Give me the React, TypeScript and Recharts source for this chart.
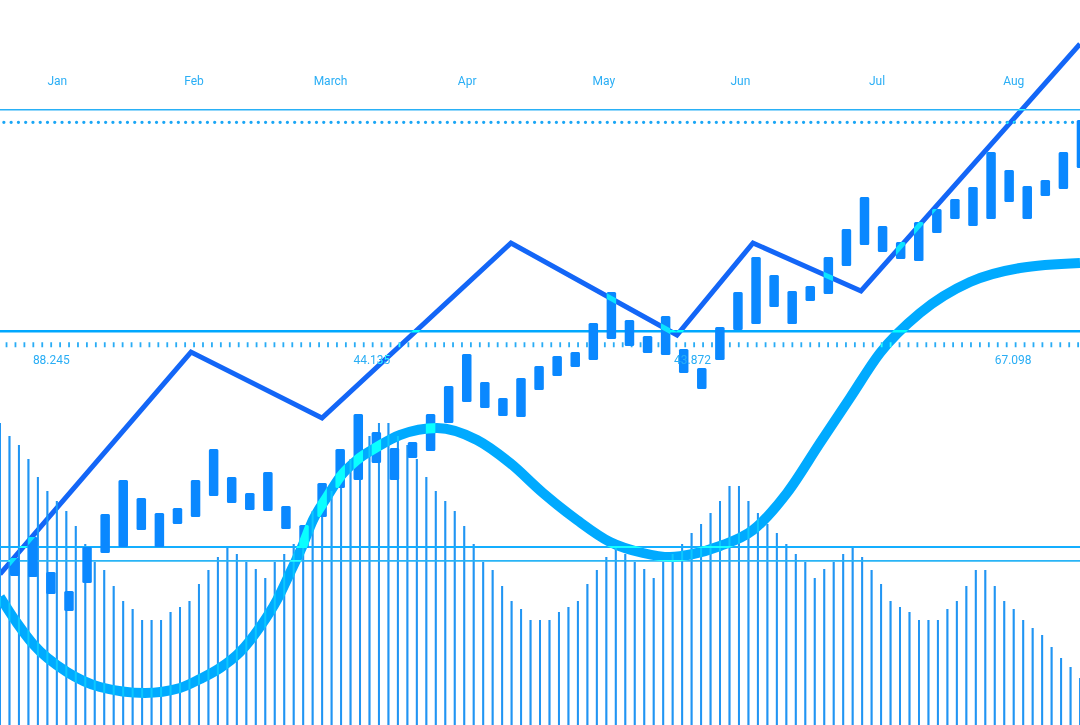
import React from 'react';
import { BarChart, Bar, LineChart, Line, XAxis, YAxis, ReferenceLine } from 'recharts';

// thin volume bars, left to right (value scale 0-725)
const volume = [
  302, 289, 280, 266, 248, 234, 224, 214, 199, 181, 163, 155, 139, 124, 116, 105, 105, 105, 113, 118,
  124, 141, 155, 168, 178, 171, 163, 156, 147, 163, 171, 181, 199, 214, 224, 234, 248, 266, 280, 289,
  302, 302, 289, 280, 266, 248, 234, 224, 214, 199, 181, 163, 155, 139, 124, 116, 105, 105, 105, 113,
  118, 124, 141, 155, 168, 178, 171, 163, 156, 147, 163, 171, 181, 192, 201, 212, 224, 239, 239, 224,
  212, 201, 192, 181, 171, 163, 147, 156, 163, 171, 178, 168, 155, 141, 124, 118, 113, 105, 105, 105,
  116, 124, 139, 155, 155, 139, 124, 116, 105, 97, 90, 78, 67, 58, 47,
];

// candle bodies
const candleHigh = [
  167, 188, 153, 134, 178, 211, 245, 227, 212, 217, 245, 276, 248, 232, 253, 219, 200, 242, 276, 311,
  293, 277, 283, 311, 339, 371, 343, 327, 347, 359, 369, 373, 402, 433, 405, 389, 409, 376, 357, 398,
  433, 468, 450, 434, 439, 468, 496, 528, 499, 483, 503, 516, 526, 538, 573, 555, 539, 545, 573, 605,
];
const candleLow = [
  149, 148, 131, 114, 142, 172, 178, 195, 178, 201, 208, 229, 222, 215, 214, 196, 177, 208, 237, 245,
  262, 245, 267, 274, 302, 323, 317, 309, 308, 335, 349, 358, 365, 386, 379, 372, 370, 352, 336, 365,
  395, 401, 418, 401, 424, 431, 459, 480, 473, 466, 464, 492, 506, 499, 506, 523, 506, 529, 536, 557,
];

// zigzag trend line
const trendX = [0, 191, 322, 511, 677, 753, 861, 1080];
const trendY = [151, 373, 307, 482, 390, 482, 434, 681];

// smooth wave
const waveX = [
  0, 17, 33, 67, 100, 145, 180, 200, 220, 240, 260, 277, 290, 302, 313, 327, 340, 357, 377, 400,
  437, 477, 510, 543, 577, 610, 643, 670, 693, 720, 753, 787, 820, 850, 880, 920, 970, 1020, 1080,
];
const waveY = [
  128, 102, 81, 53, 38, 32, 37, 46, 57, 73, 98, 125, 152, 178, 205, 228, 248, 265, 278, 290,
  297, 285, 262, 232, 205, 183, 172, 168, 171, 179, 195, 232, 282, 327, 372, 412, 443, 457, 462,
];

const months = ['Jan', 'Feb', 'March', 'Apr', 'May', 'Jun', 'Jul', 'Aug'];
const midLabels = ['88.245', '44.135', '43.872', '67.098'];

// horizontal guide levels
const topLine = 615.3;
const dotLine = 602.7;
const midLine = 393.8;
const tickLine = 380.2;
const lowLine = 178;
const lowLine2 = 164.2;

const volumeData = volume.map((v, i) => ({ i, v }));
const candleData = candleHigh.map((h, i) => ({ i, high: h, low: candleLow[i] }));
const trendData = trendX.map((x, i) => ({ x, v: trendY[i] }));
const waveData = waveX.map((x, i) => ({ x, v: waveY[i] }));
const monthData = months.map(m => ({ m }));
const midData = midLabels.map(t => ({ t }));

const H = 725;
const noMargin = { top: 0, right: 0, bottom: 0, left: 0 };
const textStyle = { fill: '#2AAEF5', fontSize: 12, fontFamily: 'Roboto' };

const layer = (left: number): React.CSSProperties => ({ position: 'absolute', left, top: 0 });

export default function App() {
  return (
    <div style={{ position: 'absolute', left: 0, top: 0, width: 1080, height: H, overflow: 'hidden' }}>
      {/* solid volume bars below everything */}
      <div style={layer(-4.74)}>
        <BarChart width={1089.5} height={H} data={volumeData} margin={noMargin}>
          <XAxis dataKey="i" hide />
          <YAxis hide domain={[0, H]} />
          <Bar dataKey="v" fill="#2196F3" barSize={2} isAnimationActive={false} />
        </BarChart>
      </div>
      {/* isolated group so the wave and trend line only light up over marks inside it */}
      <div style={{ position: 'absolute', left: 0, top: 0, width: 1080, height: H, isolation: 'isolate' }}>
        <div style={layer(-4.74)}>
          <BarChart width={1089.5} height={H} data={volumeData} margin={noMargin}>
            <XAxis dataKey="i" hide />
            <YAxis hide domain={[0, H]} />
            <ReferenceLine y={topLine} stroke="#29B0F6" strokeWidth={1.5} />
            <ReferenceLine y={dotLine} stroke="#1AA6F5" strokeWidth={3.3} strokeDasharray="0 7.27" strokeLinecap="round" strokeDashoffset={-1.6} />
            <ReferenceLine y={midLine} stroke="#00A8FF" strokeWidth={2.6} />
            <ReferenceLine y={tickLine} stroke="#29ACF5" strokeWidth={5} strokeDasharray="1.8 7.13" strokeDashoffset={-1.7} />
            <ReferenceLine y={lowLine} stroke="#14AEFF" strokeWidth={2.2} />
            <ReferenceLine y={lowLine2} stroke="#29B4F6" strokeWidth={1.7} />
            <Bar dataKey="v" fill="#2196F3" fillOpacity={0.35} barSize={2} isAnimationActive={false} />
          </BarChart>
        </div>
        <div style={layer(5.96)}>
          <BarChart width={1084.8} height={H} data={candleData} margin={noMargin}>
            <XAxis dataKey="i" hide />
            <YAxis hide domain={[0, H]} />
            <Bar dataKey={(d: any) => [d.low, d.high]} fill="#0A88FF" barSize={9.5} radius={1.5} isAnimationActive={false} />
          </BarChart>
        </div>
        <div style={layer(-11.3)}>
          <BarChart width={1093} height={200} data={monthData} margin={noMargin}>
            <XAxis dataKey="m" orientation="top" height={85} axisLine={false} tickLine={false} tickSize={0} tickMargin={0} interval={0} tick={textStyle} />
            <YAxis hide />
          </BarChart>
        </div>
        <div style={layer(-109.5)}>
          <BarChart width={1282.4} height={374} data={midData} margin={noMargin}>
            <XAxis dataKey="t" height={30} axisLine={false} tickLine={false} tickSize={0} tickMargin={11} interval={0} tick={textStyle} />
            <YAxis hide />
          </BarChart>
        </div>
        <div style={{ ...layer(-20), mixBlendMode: 'color-dodge' }}>
          <LineChart width={1120} height={H} margin={{ top: 0, right: 20, bottom: 0, left: 20 }}>
            <XAxis type="number" dataKey="x" domain={[0, 1080]} hide />
            <YAxis hide domain={[0, H]} />
            <Line data={waveData} dataKey="v" type="monotone" stroke="#00AAFF" strokeWidth={10} strokeLinecap="butt" dot={false} activeDot={false} isAnimationActive={false} />
            <Line data={trendData} dataKey="v" type="linear" stroke="#1366F7" strokeWidth={5} strokeLinecap="butt" dot={false} activeDot={false} isAnimationActive={false} />
          </LineChart>
        </div>
      </div>
    </div>
  );
}
